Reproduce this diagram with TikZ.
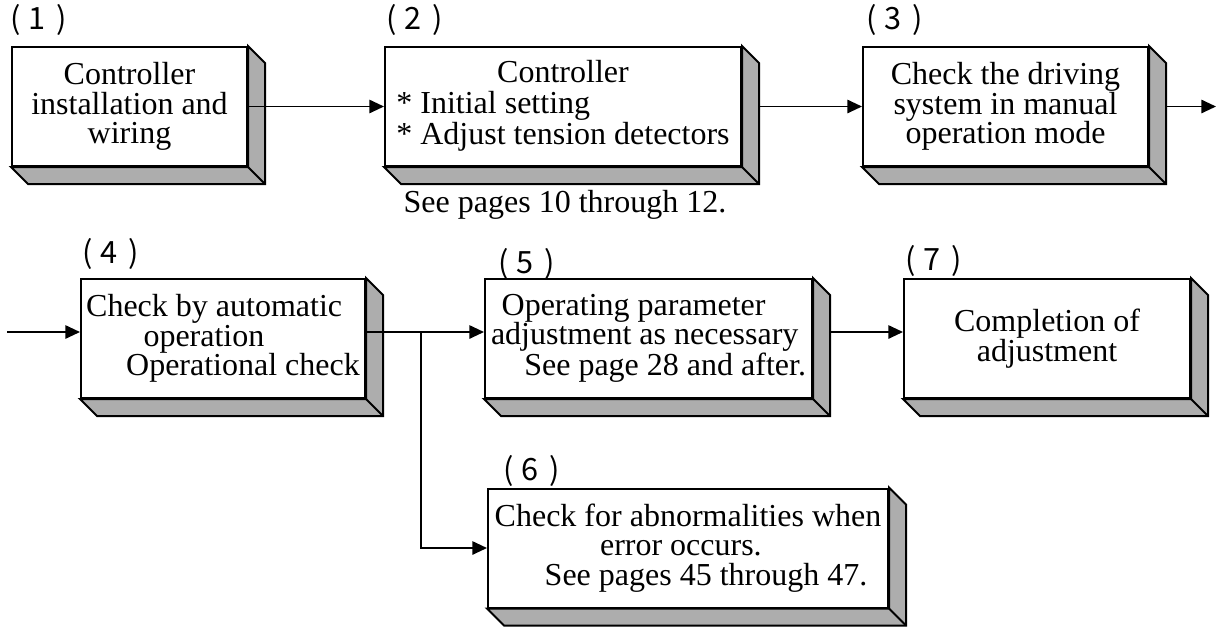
\documentclass[tikz,border=0pt]{standalone}
\usepackage{fontspec}
\setmainfont{Liberation Serif}
\newfontfamily\numfont{Noto Sans CJK JP}
\usetikzlibrary{arrows.meta}

\newcommand*{\dep}{17}
\newcommand*{\boxfont}{\fontsize{24}{22}\selectfont}
\newcommand*{\stepno}[1]{(\hspace{6pt}#1\hspace{8pt})}

\begin{document}
\begin{tikzpicture}
[
	x=0.75pt,
	y=-0.75pt,
	box/.style={draw,fill=white,line width=1.5pt,inner sep=0pt,minimum height=89.25pt,font=\boxfont},
	side/.style={draw,fill=black!32,line width=1.5pt,line join=miter},
	arr/.style={-{Triangle[length=11pt,width=10pt]},line width=1.4pt},
	num/.style={font=\numfont\fontsize{23}{26}\selectfont,inner sep=0pt,anchor=west}
]

	\useasboundingbox (0,0) rectangle (1217,626);

	% front faces
	\node[box,minimum width=176.25pt,align=center] at (129.5,106.5) (b1)
	  {Controller\\installation and\\wiring};
	\node[box,minimum width=267pt] at (563,106.5) (b2)
	  {\begin{tabular}{@{}l@{}}\multicolumn{1}{@{}c@{}}{Controller}\\{*} Initial setting\\{*} Adjust tension detectors\end{tabular}};
	\node[box,minimum width=213.75pt,align=center] at (1005.5,106.5) (b3)
	  {Check the driving\\system in manual\\operation mode};
	\node[box,minimum width=213pt,align=left] at (223,338.5) (b4)
	  {Check by automatic\\\hspace*{43pt}operation\\\hspace*{30pt}Operational check};
	\node[box,minimum width=245.25pt,align=left] at (648.5,338.5) (b5)
	  {\hspace*{8pt}Operating parameter\\adjustment as necessary\\\hspace*{25pt}See page 28 and after.};
	\node[box,minimum width=300pt,align=left] at (688,548) (b6)
	  {Check for abnormalities when\\\hspace*{79pt}error occurs.\\\hspace*{37.5pt}See pages 45 through 47.};
	\node[box,minimum width=214.5pt,align=center] at (1047,338.5) (b7)
	  {Completion of\\adjustment};

	% shaded sides
	\foreach \n in {b1,b2,b3,b4,b5,b6,b7} {
		\draw[side] (\n.north east) -- ++(\dep,\dep) |- ([shift={(\dep,\dep)}]\n.south west)
		  -- (\n.south west) -- (\n.south east) -- cycle;
		\draw[line width=1.5pt] (\n.south east) -- ++(\dep,\dep);
	}

	% step numbers
	\node[num] at (10,20) (n1) {\stepno{1}};
	\node[num] at (386,20) (n2) {\stepno{2}};
	\node[num] at (866,20) (n3) {\stepno{3}};
	\node[num] at (82,254) (n4) {\stepno{4}};
	\node[num] at (498,264) (n5) {\stepno{5}};
	\node[num] at (503,471) (n6) {\stepno{6}};
	\node[num] at (905,261) (n7) {\stepno{7}};

	% page note
	\node[font=\boxfont] at (565,205) (ref2) {See pages 10 through 12.};

	% connectors, top row
	\coordinate (out3) at (1216,106.5);
	\draw[arr] (b1.east) -- (b2.west);
	\draw[arr] ([shift={(\dep,0)}]b2.east) -- (b3.west);
	\draw[arr] ([shift={(\dep,0)}]b3.east) -- (out3);

	% connectors, bottom row
	\coordinate (in4) at (7,332);
	\coordinate (br) at (421,332);
	\coordinate (s5) at ([shift={(\dep,0)}]b5.east);
	\draw[arr] (in4) -- (in4 -| b4.west);
	\draw[arr] (in4 -| b4.east) -- (in4 -| b5.west);
	\draw[arr] (br) |- (b6.west);
	\draw[arr] (in4 -| s5) -- (in4 -| b7.west);

\end{tikzpicture}
\end{document}
